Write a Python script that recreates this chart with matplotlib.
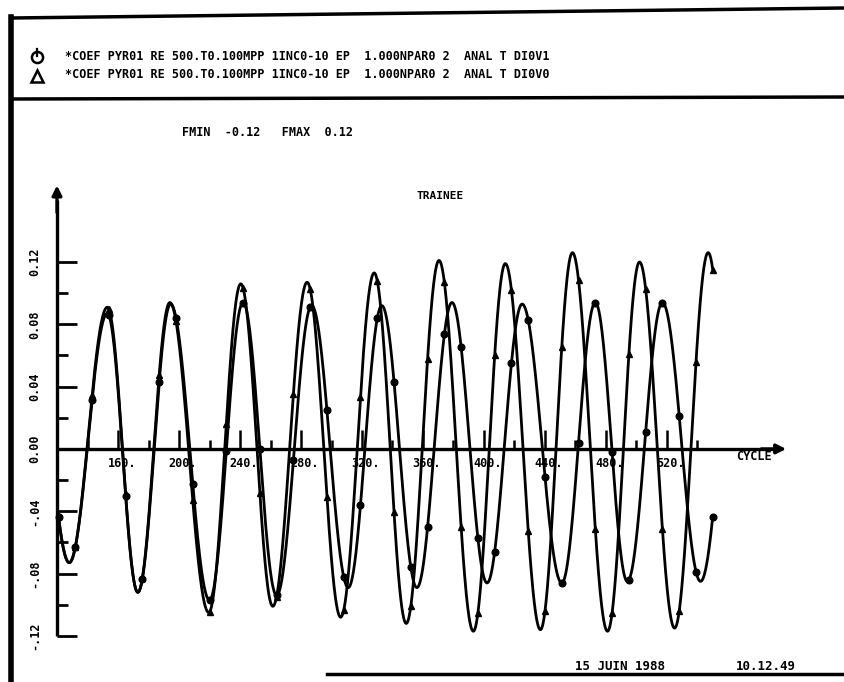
import numpy as np
import matplotlib.pyplot as plt
from matplotlib.lines import Line2D

# extrema (cycle, value)
circ_x = [128, 153, 173, 194.5, 220, 242, 264, 287, 311, 333, 356, 379, 402, 425, 451, 473, 494, 517, 542]
circ_y = [-0.073, 0.087, -0.092, 0.093, -0.097, 0.094, -0.094, 0.092, -0.089, 0.092, -0.089,
          0.094, -0.086, 0.093, -0.086, 0.094, -0.085, 0.094, -0.085]

tri_x = [128, 153, 173, 194, 219.5, 240.5, 261.5, 284, 306, 328, 349, 370.5, 393, 414, 437, 458, 481, 502, 525, 547]
tri_y = [-0.073, 0.091, -0.092, 0.094, -0.105, 0.106, -0.101, 0.107, -0.108, 0.113, -0.112,
         0.121, -0.117, 0.119, -0.116, 0.126, -0.117, 0.120, -0.115, 0.126]

cyc_first, cyc_last = 121, 550
mark_x = list(range(121, 551, 11))

ytick_vals = [-0.12, -0.08, -0.04, 0.0, 0.04, 0.08, 0.12]
ytick_labels = ['-.12', '-.08', '-.04', '0.00', '0.04', '0.08', '0.12']
xtick_vals = [160, 200, 240, 280, 320, 360, 400, 440, 480, 520]
xtick_labels = ['160.', '200.', '240.', '280.', '320.', '360.', '400.', '440.', '480.', '520.']

legend_1 = '*COEF PYR01 RE 500.T0.100MPP 1INC0-10 EP  1.000NPAR0 2  ANAL T DI0V1'
legend_2 = '*COEF PYR01 RE 500.T0.100MPP 1INC0-10 EP  1.000NPAR0 2  ANAL T DI0V0'


def curve(ex, ey, xs):
    # smooth half-wave shape between successive extrema
    ex = np.asarray(ex, float)
    ey = np.asarray(ey, float)
    xs = np.asarray(xs, float)
    j = np.clip(np.searchsorted(ex, xs) - 1, 0, len(ex) - 2)
    t = (xs - ex[j]) / (ex[j + 1] - ex[j])
    return ey[j] + (ey[j + 1] - ey[j]) * (1 - np.cos(np.pi * t)) / 2


W, H = 844, 682
fig = plt.figure(figsize=(W / 100, H / 100), dpi=100)
ax = fig.add_axes([0, 0, 1, 1])
ax.set_xlim(82.62, 636.07)
ax.set_ylim(-0.1496, 0.2882)
ax.axis('off')

mono = dict(family='DejaVu Sans Mono', weight='bold', color='black')

# axes
ax.plot([120, 120], [-0.12, 0.16], color='k', lw=2.4, solid_capstyle='butt')
ax.annotate('', xy=(120, 0.171), xytext=(120, 0.15),
            arrowprops=dict(arrowstyle='-|>', color='k', lw=2.4, mutation_scale=14))
ax.plot([120, 590], [0, 0], color='k', lw=2.4, solid_capstyle='butt')
ax.annotate('', xy=(600, 0), xytext=(580, 0),
            arrowprops=dict(arrowstyle='-|>', color='k', lw=2.4, mutation_scale=14))

for k in range(13):
    v = -0.12 + 0.02 * k
    ln = 13.1 if k % 2 == 0 else 7.0
    ax.plot([120, 120 + ln], [v, v], color='k', lw=2.0, solid_capstyle='butt')
for v, s in zip(ytick_vals, ytick_labels):
    ax.text(105.5, v, s, rotation=90, ha='center', va='center', fontsize=8.5, **mono)

for c in range(140, 541, 20):
    ln = 0.0122 if c % 40 == 0 else 0.006
    ax.plot([c, c], [0, ln], color='k', lw=1.8, solid_capstyle='butt')
for c, s in zip(xtick_vals, xtick_labels):
    ax.text(c + 2.5, -0.0092, s, ha='center', va='center', fontsize=8.5, **mono)

# traces
xs = np.linspace(cyc_first, cyc_last, 2000)
ax.plot(xs, curve(circ_x, circ_y, xs), color='k', lw=2.0)
ax.plot(xs, curve(tri_x, tri_y, xs), color='k', lw=2.0)
ax.plot(mark_x, curve(circ_x, circ_y, mark_x), 'o', color='k', ms=4.8, ls='none')
ax.plot(mark_x, curve(tri_x, tri_y, mark_x), '^', color='k', ms=4.2, ls='none')

# texts
def ftext(x, y, s, **kw):
    fig.text(x / W, 1 - y / H, s, **kw)

ftext(182, 133, 'FMIN  -0.12   FMAX  0.12', ha='left', va='center', fontsize=8.5, **mono)
ftext(440, 196, 'TRAINEE', ha='center', va='center', fontsize=8, **mono)
ftext(754, 456, 'CYCLE', ha='center', va='center', fontsize=8.5, **mono)
ftext(620, 666, '15 JUIN 1988', ha='center', va='center', fontsize=9, **mono)
ftext(766, 666, '10.12.49', ha='center', va='center', fontsize=9, **mono)
ftext(65, 56, legend_1, ha='left', va='center', fontsize=8.5, **mono)
ftext(65, 74, legend_2, ha='left', va='center', fontsize=8.5, **mono)

# legend symbols
fig.add_artist(Line2D([37 / W], [1 - 57 / H], marker='o', ms=8, mfc='white', mec='k', mew=1.8,
                      transform=fig.transFigure))
fig.add_artist(Line2D([37 / W, 37 / W], [1 - 49 / H, 1 - 56 / H], color='k', lw=1.6,
                      transform=fig.transFigure))
fig.add_artist(Line2D([37 / W], [1 - 76 / H], marker='^', ms=8, mfc='white', mec='k', mew=1.8,
                      transform=fig.transFigure))

# frame
def fline(xa, ya, xb, yb, lw):
    fig.add_artist(Line2D([xa / W, xb / W], [1 - ya / H, 1 - yb / H], color='k', lw=lw,
                          transform=fig.transFigure))

fline(11, 18, 844, 8, 2.5)
fline(11, 99, 844, 97, 2.5)
fline(11, 17, 11, 682, 4)
fline(327, 674, 844, 674, 2.5)

fig.savefig('out.png', dpi=100, facecolor='white')
